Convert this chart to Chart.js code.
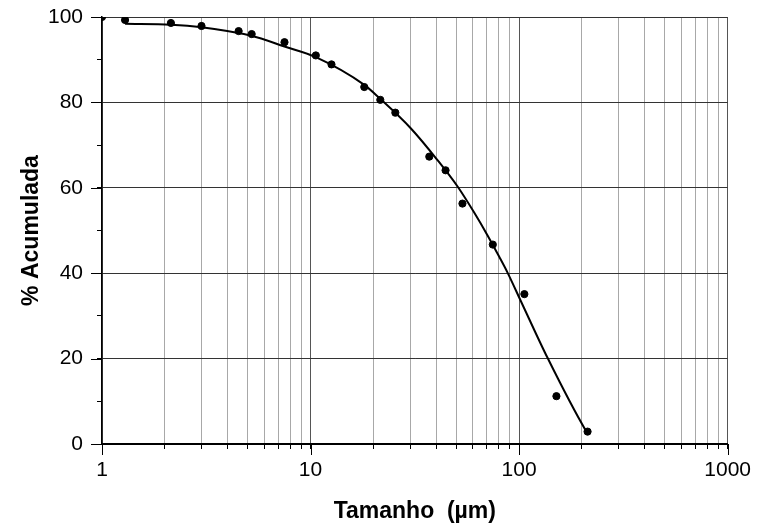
<!DOCTYPE html>
<html>
<head>
<meta charset="utf-8">
<script src="https://cdn.jsdelivr.net/npm/chart.js@4/dist/chart.umd.min.js"></script>
<style>
  html, body { margin: 0; padding: 0; background: #fff; }
  #wrap { width: 760px; height: 526px; }
</style>
</head>
<body>
<div id="wrap"><canvas id="chart-dist" width="760" height="526"></canvas></div>
<script>
// measured points (size in um, cumulative %)
const sizeMeasured = [1, 1.29, 2.14, 3.0, 4.52, 5.22, 7.5, 10.6, 12.6, 18.1, 21.6, 25.5, 37.1, 44.4, 53.5, 74.8, 106, 151, 213];
const pctMeasured  = [100, 99.3, 98.6, 97.9, 96.7, 96.0, 94.1, 91.0, 88.9, 83.6, 80.6, 77.6, 67.3, 64.1, 56.3, 46.7, 35.1, 11.2, 2.9];

// fitted curve
const sizeFit = [1.29, 2.14, 3.0, 5.2, 7.5, 10.6, 18.1, 21.4, 30.3, 40.6, 50.7, 60.9, 70.5, 80.2, 87.9, 101.9, 136.5, 208, 214];
const pctFit  = [98.4, 98.2, 97.6, 95.6, 93.1, 90.6, 84.1, 81.0, 73.9, 66.5, 60.3, 54.2, 48.9, 43.9, 40.2, 33.5, 20.3, 3.3, 2.4];

// axes
const xMajorTicks = [1, 10, 100, 1000];
const xMinorSteps = [2, 3, 4, 5, 6, 7, 8, 9];
const yMajorTicks = [0, 20, 40, 60, 80, 100];

const xTickValues = [];
xMajorTicks.forEach((m, i) => {
  xTickValues.push(m);
  if (i < xMajorTicks.length - 1) xMinorSteps.forEach(s => xTickValues.push(m * s));
});

const fontFamily = '"Liberation Sans", Arial, sans-serif';

// longer tick marks at the major values
const majorTicks = {
  id: 'majorTicks',
  afterDraw(chart) {
    const { ctx, chartArea, scales } = chart;
    ctx.save();
    ctx.strokeStyle = '#000';
    ctx.lineWidth = 1;
    xMajorTicks.forEach(v => {
      const px = Math.round(scales.x.getPixelForValue(v)) + 0.5;
      ctx.beginPath();
      ctx.moveTo(px, chartArea.bottom);
      ctx.lineTo(px, chartArea.bottom + 11);
      ctx.stroke();
    });
    yMajorTicks.forEach(v => {
      const py = Math.round(scales.y.getPixelForValue(v)) + 0.5;
      ctx.beginPath();
      ctx.moveTo(chartArea.left - 11, py);
      ctx.lineTo(chartArea.left, py);
      ctx.stroke();
    });
    ctx.restore();
  }
};

new Chart(document.getElementById('chart-dist'), {
  type: 'scatter',
  data: {
    datasets: [{
      label: 'Medido',
      data: sizeMeasured.map((s, i) => ({ x: s, y: pctMeasured[i] })),
      backgroundColor: '#000',
      borderColor: '#000',
      pointRadius: 3.6,
      pointHoverRadius: 3.6,
      clip: 0
    }, {
      label: 'Ajuste',
      data: sizeFit.map((s, i) => ({ x: s, y: pctFit[i] })),
      showLine: true,
      borderColor: '#000',
      borderWidth: 2,
      pointRadius: 0,
      cubicInterpolationMode: 'monotone',
      fill: false
    }]
  },
  options: {
    responsive: false,
    animation: false,
    devicePixelRatio: 1,
    layout: { padding: { top: 17, right: 31, left: 0, bottom: 0 } },
    plugins: { legend: { display: false }, tooltip: { enabled: false } },
    scales: {
      x: {
        type: 'logarithmic',
        min: 1,
        max: 1000,
        afterBuildTicks: (scale) => {
          scale.ticks = xTickValues.map(v => ({ value: v }));
        },
        afterFit: (scale) => { scale.height = 82; },
        border: { color: '#000', width: 2 },
        grid: {
          color: (c) => {
            const v = c.tick && c.tick.value;
            return xMajorTicks.includes(v) ? '#555' : '#a8a8a8';
          },
          tickColor: '#000',
          tickLength: 5,
          lineWidth: 1
        },
        ticks: {
          autoSkip: false,
          maxRotation: 0,
          color: '#000',
          padding: 9,
          font: { family: fontFamily, size: 21 },
          callback: (v) => xMajorTicks.includes(v) ? String(v) : ''
        },
        title: {
          display: true,
          text: 'Tamanho  (µm)',
          color: '#000',
          padding: { top: 0, bottom: 1 },
          font: { family: fontFamily, size: 23, weight: 'bold' }
        }
      },
      y: {
        min: 0,
        max: 100,
        afterFit: (scale) => {
          scale.width = 102;
          scale.paddingTop = 0;
          scale.paddingBottom = 0;
        },
        border: { color: '#000', width: 1.5 },
        grid: {
          color: (c) => {
            const v = c.tick && c.tick.value;
            return yMajorTicks.includes(v) ? '#333' : 'rgba(0,0,0,0)';
          },
          tickColor: '#000',
          tickLength: 5,
          lineWidth: 1
        },
        ticks: {
          stepSize: 10,
          color: '#000',
          padding: 14,
          font: { family: fontFamily, size: 21 },
          callback: (v) => yMajorTicks.includes(v) ? String(v) : ''
        },
        title: {
          display: true,
          text: '% Acumulada',
          color: '#000',
          padding: { top: 18, bottom: 0 },
          font: { family: fontFamily, size: 23, weight: 'bold' }
        }
      }
    }
  },
  plugins: [majorTicks]
});
</script>
</body>
</html>
